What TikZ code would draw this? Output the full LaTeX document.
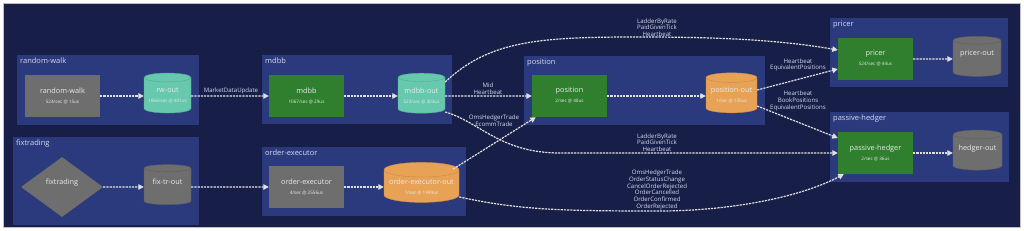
\documentclass[tikz,border=0pt]{standalone}
\usepackage{fontspec}
\setmainfont{Open Sans}
\usetikzlibrary{arrows.meta, shapes.geometric, positioning}
\definecolor{navy}{HTML}{171F48}
\definecolor{grpblue}{HTML}{2B3A7C}
\definecolor{svcgray}{HTML}{6E6E6E}
\definecolor{svcgreen}{HTML}{2F7F2F}
\definecolor{outteal}{HTML}{66C8AC}
\definecolor{outorange}{HTML}{E8A256}
\definecolor{lbltext}{HTML}{D6DAEE}
\tikzset{
  grp/.style={fill=grpblue, anchor=north west, inner sep=0pt},
  grplbl/.style={anchor=north west, text=lbltext, font=\fontsize{7.5}{8}\selectfont, inner sep=0pt},
  svc/.style={fill=#1, text=white!92!black, minimum width=75pt, minimum height=42pt,
    align=center, font=\fontsize{7.3}{8}\selectfont},
  svc/.default=svcgray,
  outq/.style={cylinder, shape border rotate=90, aspect=0.22, fill=#1, draw=#1!85!black,
    text=white!92!black, minimum width=47pt, minimum height=40pt, align=center,
    font=\fontsize{7.3}{8}\selectfont, inner sep=1pt},
  msg/.style={draw=white!88!black, line width=1.2pt, dash pattern=on 2.2pt off 1pt,
    -{Triangle[length=5.5pt,width=5.5pt]}},
  lbl/.style={text=lbltext, font=\fontsize{6.1}{6.8}\selectfont, align=center, inner sep=0.5pt}
}
\newcommand{\svctext}[2]{#1\\[2pt]{\fontsize{4.6}{5}\selectfont #2\strut}}

\begin{document}
\begin{tikzpicture}[x=1pt, y=-1pt]
  \useasboundingbox (0,0) rectangle (1024,230);
  \fill[white] (0,0) rectangle (1024,230);
  \draw[fill=navy, draw=black!25, line width=1pt] (3.5,3.5) rectangle (1020,227);
  % groups
  \node[grp, minimum width=182pt, minimum height=70pt] (g-rw) at (17,55) {};
  \node[grplbl] (t-rw) at ([shift={(3pt,-3pt)}]g-rw.north west) {random-walk};
  \node[grp, minimum width=186pt, minimum height=88pt] (g-fix) at (13,137) {};
  \node[grplbl] (t-fix) at ([shift={(3pt,-3pt)}]g-fix.north west) {fixtrading};
  \node[grp, minimum width=190pt, minimum height=69pt] (g-mdbb) at (262,55) {};
  \node[grplbl] (t-mdbb) at ([shift={(3pt,-3pt)}]g-mdbb.north west) {mdbb};
  \node[grp, minimum width=204pt, minimum height=69pt] (g-oe) at (262,147) {};
  \node[grplbl] (t-oe) at ([shift={(3pt,-3pt)}]g-oe.north west) {order-executor};
  \node[grp, minimum width=241pt, minimum height=69pt] (g-pos) at (524,56) {};
  \node[grplbl] (t-pos) at ([shift={(3pt,-3pt)}]g-pos.north west) {position};
  \node[grp, minimum width=178pt, minimum height=69pt] (g-pricer) at (830,18) {};
  \node[grplbl] (t-pricer) at ([shift={(3pt,-3pt)}]g-pricer.north west) {pricer};
  \node[grp, minimum width=179pt, minimum height=70pt] (g-ph) at (830,112) {};
  \node[grplbl] (t-ph) at ([shift={(3pt,-3pt)}]g-ph.north west) {passive-hedger};
  % services and outputs
  \node[svc] (rw) at (62.5,96) {\svctext{random-walk}{524/sec @ 15us}};
  \node[outq=outteal] (rwout) at (167.5,96) {\svctext{rw-out}{1066/sec @ 401us}};
  \node[diamond, fill=svcgray, text=white!92!black, minimum width=82pt, minimum height=60pt,
    inner sep=0pt, align=center, font=\fontsize{7.3}{8}\selectfont] (fix) at (62,187) {\svctext{fixtrading}{}};
  \node[outq=svcgray] (fixout) at (167.5,187) {\svctext{fix-tr-out}{}};
  \node[svc=svcgreen] (mdbb) at (306.5,96) {\svctext{mdbb}{1067/sec @ 29us}};
  \node[outq=outteal] (mdbbout) at (421.5,96) {\svctext{mdbb-out}{523/sec @ 303us}};
  \node[svc] (oe) at (306.5,187) {\svctext{order-executor}{4/sec @ 2556us}};
  \node[outq=outorange, minimum width=75pt] (oeout) at (421.5,187) {\svctext{order-executor-out}{1/sec @ 1999us}};
  \node[svc=svcgreen] (pos) at (569.5,96) {\svctext{position}{2/sec @ 40us}};
  \node[outq=outorange, minimum width=51pt] (posout) at (731.5,96) {\svctext{position-out}{1/sec @ 135us}};
  \node[svc=svcgreen] (pricer) at (875.5,59) {\svctext{pricer}{524/sec @ 44us}};
  \node[outq=svcgray, minimum width=48pt] (pricerout) at (977,59) {\svctext{pricer-out}{}};
  \node[svc=svcgreen] (ph) at (875.5,153) {\svctext{passive-hedger}{2/sec @ 36us}};
  \node[outq=svcgray, minimum width=49pt] (hout) at (977.5,153) {\svctext{hedger-out}{}};
  % straight flows
  \draw[msg] (rw) -- (rwout);
  \draw[msg] (fix) -- (fixout);
  \draw[msg] (rwout) -- (mdbb);
  \draw[msg] (fixout) -- (oe);
  \draw[msg] (mdbb) -- (mdbbout);
  \draw[msg] (oe) -- (oeout);
  \draw[msg] (mdbbout) -- (pos);
  \draw[msg] (pos) -- (posout);
  \draw[msg] (pricer) -- (pricerout);
  \draw[msg] (ph) -- (hout);
  \draw[msg] ([shift={(-6pt,18pt)}]oeout.east) -- ([xshift=4pt]pos.south west);
  \draw[msg] ([yshift=6pt]posout.east) -- ([yshift=-10pt]pricer.west);
  \draw[msg] ([yshift=-10pt]posout.east) -- ([yshift=15pt]ph.west);
  % curved flows
  \draw[msg] ([yshift=14pt]mdbbout.east) .. controls (490,40) and (540,37) .. (640,37)
    .. controls (720,37) and (780,40) .. ([yshift=9pt]pricer.west);
  \draw[msg] ([yshift=-16pt]mdbbout.east) .. controls (480,122) and (500,153) .. (560,153) -- (ph.west);
  \draw[msg] ([yshift=-10pt]oeout.east) .. controls (520,210) and (560,211) .. (660,211)
    .. controls (720,211) and (795,200) .. ([xshift=6pt]ph.south west);
  % labels
  \node[lbl, anchor=south] (l-mdu) at (231,95) {MarketDataUpdate};
  \node[lbl, anchor=south] (l-mid) at (488,95) {Mid\\Heartbeat};
  \node[lbl, anchor=south] (l-top) at (657,37.5) {LadderByRate\\PaidGivenTick\\Heartbeat};
  \node[lbl, anchor=south] (l-mid2) at (657,152.5) {LadderByRate\\PaidGivenTick\\Heartbeat};
  \node[lbl] (l-oms) at (494,121) {OmsHedgerTrade\\EcommTrade};
  \node[lbl] (l-orders) at (657,190) {OmsHedgerTrade\\OrderStatusChange\\CancelOrderRejected\\OrderCancelled\\OrderConfirmed\\OrderRejected};
  \node[lbl] (l-eqp) at (798,65) {Heartbeat\\EquivalentPositions};
  \node[lbl] (l-book) at (798,101) {Heartbeat\\BookPositions\\EquivalentPositions};
\end{tikzpicture}
\end{document}
